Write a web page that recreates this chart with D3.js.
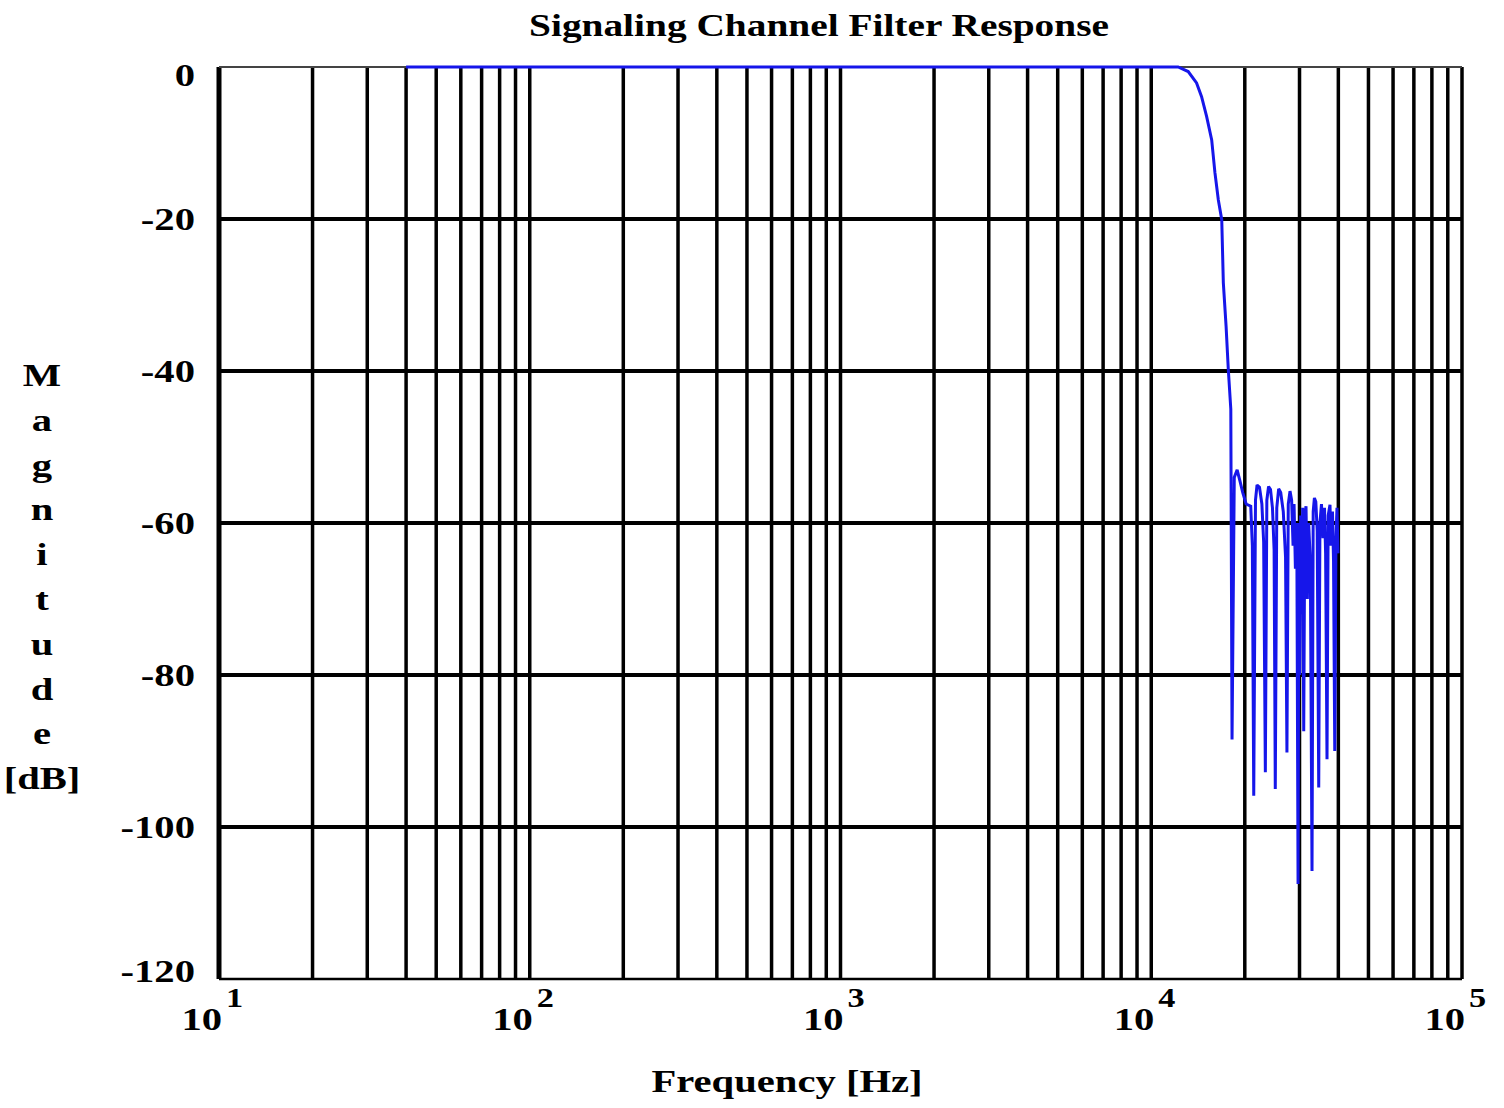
<!DOCTYPE html>
<html>
<head>
<meta charset="utf-8">
<script src="https://cdn.jsdelivr.net/npm/d3@7"></script>
<style>
  body { margin: 0; background: #fff; }
  text { font-family: "Liberation Serif", "Times New Roman", serif; font-weight: bold; fill: #000; }
</style>
</head>
<body>
<svg id="chart" width="1504" height="1108"></svg>
<script>
// Frequency response of the signaling channel filter (magnitude in dB vs. frequency in Hz)
const freqHz = [
  40, 100, 1000, 10000, 12200, 13150, 13990, 14520, 15070, 15650, 16030, 16440,
  16860, 17060, 17410, 17700, 18030, 18195,
  18500, 18900, 19300, 19700, 20200, 20900, 21150, 21370,
  21650, 21900, 22300, 22700, 23000, 23290,
  23550, 23850, 24200, 24550, 24850, 25070,
  25350, 25700, 26100, 26600, 27050, 27330,
  27600, 27960, 28300, 28600, 28810, 29100, 29400, 29680,
  29850, 30050, 30250, 30500, 30700, 30950,
  31200, 31480, 31800, 32100, 32500, 32910,
  33200, 33500, 33850, 34200, 34590,
  34900, 35300, 35700, 36100, 36400, 36780,
  37100, 37600, 37900, 38300, 38600, 38950,
  39300, 39600, 39900
];
const magDb = [
  0, 0, 0, 0, 0, -0.6, -2.1, -3.9, -6.5, -9.6, -13.9, -17.5,
  -20.1, -28.4, -34.1, -39.8, -45, -88.5,
  -54, -53, -54.5, -56, -57.5, -57.8, -63, -95.9,
  -57, -55, -55.3, -57.5, -62.5, -92.8,
  -57, -55.2, -55.6, -58, -63.5, -95,
  -58, -55.5, -56, -58.5, -64.5, -90.2,
  -57.5, -55.8, -57, -63, -57.5, -66, -60, -107.5,
  -60, -80, -59, -72, -58, -87.4,
  -59, -57.8, -70, -60, -65, -105.8,
  -58.5, -56.7, -57.2, -61, -94.8,
  -60, -57.5, -62, -58, -64, -91.1,
  -59, -57.6, -63, -58.5, -65, -90,
  -62, -58, -64
];
const magTicks = [0, -20, -40, -60, -80, -100, -120];
const decadeExponents = [1, 2, 3, 4, 5];
const yLabelLines = ["M", "a", "g", "n", "i", "t", "u", "d", "e", "[dB]"];

const W = 1504, H = 1108;
const margin = { top: 67, right: 42, bottom: 129, left: 219 };
const textStretch = 1.27; // the lettering is set wide
const svg = d3.select("#chart");

const x = d3.scaleLog()
  .domain([10, 1e5])
  .range([margin.left, W - margin.right]);
const y = d3.scaleLinear()
  .domain([-120, 0])
  .range([H - margin.bottom, margin.top]);

// place a wide-set text at (px, py)
function wideText(sel, px, py) {
  return sel.attr("transform", (d, i) => {
    const tx = typeof px === "function" ? px(d, i) : px;
    const ty = typeof py === "function" ? py(d, i) : py;
    return `translate(${tx},${ty}) scale(${textStretch},1)`;
  });
}

const grid = svg.append("g");

// vertical grid: every 1..9 multiple in each decade
grid.selectAll("line.v")
  .data(x.ticks())
  .join("line")
  .attr("class", "v")
  .attr("x1", d => x(d)).attr("x2", d => x(d))
  .attr("y1", y(0)).attr("y2", y(-120))
  .attr("stroke", "#000")
  .attr("stroke-width", d => (d === 10 ? 5 : 3.5));

// horizontal grid every 20 dB
grid.selectAll("line.h")
  .data(magTicks)
  .join("line")
  .attr("class", "h")
  .attr("x1", x(10)).attr("x2", x(1e5))
  .attr("y1", d => y(d)).attr("y2", d => y(d))
  .attr("stroke", d => (d === 0 ? "#444" : "#000"))
  .attr("stroke-width", d => (d === 0 ? 2 : d === -120 ? 2.5 : 4));

// response curve
const line = d3.line()
  .x((d, i) => x(freqHz[i]))
  .y(d => y(d));
svg.append("path")
  .datum(magDb)
  .attr("d", line)
  .attr("fill", "none")
  .attr("stroke", "#1616ea")
  .attr("stroke-width", 3)
  .attr("stroke-linejoin", "miter")
  .attr("stroke-miterlimit", 2);

// y tick labels
wideText(svg.append("g").selectAll("text")
  .data(magTicks)
  .join("text"), margin.left - 24, d => y(d))
  .attr("dy", d => (d === 0 ? "0.58em" : d === -120 ? "0.1em" : "0.34em"))
  .attr("text-anchor", "end")
  .attr("font-size", 32)
  .text(d => (d < 0 ? "-" + Math.abs(d) : d));

// x tick labels: 10 with a raised exponent
const xl = svg.append("g").selectAll("g")
  .data(decadeExponents)
  .join("g")
  .attr("transform", e => `translate(${x(Math.pow(10, e))},0)`);
wideText(xl.append("text"), 3, 1030)
  .attr("text-anchor", "end")
  .attr("font-size", 32)
  .text("10");
wideText(xl.append("text"), 7, 1007)
  .attr("text-anchor", "start")
  .attr("font-size", 27)
  .text(e => e);

// title
wideText(svg.append("text"), 819, 36)
  .attr("text-anchor", "middle")
  .attr("font-size", 31)
  .text("Signaling Channel Filter Response");

// x axis title
wideText(svg.append("text"), 787, 1092)
  .attr("text-anchor", "middle")
  .attr("font-size", 32)
  .text("Frequency [Hz]");

// y axis title, one letter per row
wideText(svg.append("g").selectAll("text")
  .data(yLabelLines)
  .join("text"), 42, (d, i) => 386 + i * 44.8)
  .attr("text-anchor", "middle")
  .attr("font-size", 32)
  .text(d => d);
</script>
</body>
</html>
